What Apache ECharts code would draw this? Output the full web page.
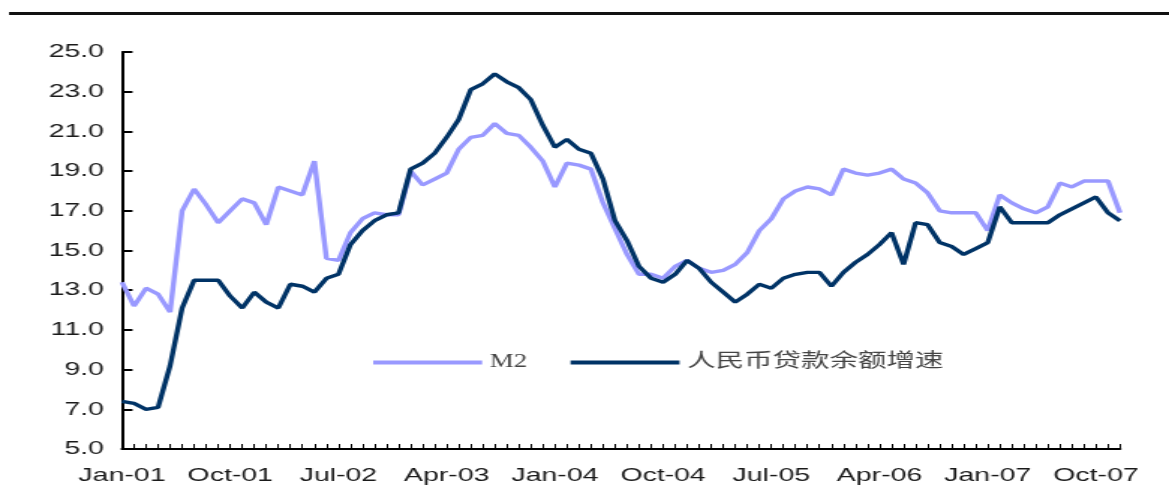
<!DOCTYPE html>
<html>
<head>
<meta charset="utf-8">
<script src="https://cdn.jsdelivr.net/npm/echarts@6/dist/echarts.min.js"></script>
<style>
  html, body { margin: 0; padding: 0; background: #ffffff; overflow: hidden; }
  #wrap { width: 1169px; height: 485px; overflow: hidden; }
  /* The chart is laid out on a narrower canvas and widened horizontally,
     giving the wide, stretched lettering and strokes of the printed figure. */
  #chart { width: 780px; height: 485px; transform-origin: 0 0; transform: scaleX(1.49872); }
</style>
</head>
<body>
<div id="wrap"><div id="chart"></div></div>
<script>
// Month labels, Jan-01 .. Dec-07
const monthNames = ['Jan', 'Feb', 'Mar', 'Apr', 'May', 'Jun', 'Jul', 'Aug', 'Sep', 'Oct', 'Nov', 'Dec'];
const years = ['01', '02', '03', '04', '05', '06', '07'];
const categories = [];
years.forEach(y => monthNames.forEach(m => categories.push(m + '-' + y)));

// M2 year-on-year growth (%)
const m2Growth = [
  13.4, 12.2, 13.1, 12.8, 11.9, 17.0, 18.1, 17.3, 16.4, 17.0, 17.6, 17.4,
  16.3, 18.2, 18.0, 17.8, 19.5, 14.6, 14.5, 15.9, 16.6, 16.9, 16.8, 16.8,
  19.0, 18.3, 18.6, 18.9, 20.1, 20.7, 20.8, 21.4, 20.9, 20.8, 20.2, 19.5,
  18.2, 19.4, 19.3, 19.1, 17.4, 16.1, 14.8, 13.8, 13.8, 13.6, 14.2, 14.5,
  14.1, 13.9, 14.0, 14.3, 14.9, 16.0, 16.6, 17.6, 18.0, 18.2, 18.1, 17.8,
  19.1, 18.9, 18.8, 18.9, 19.1, 18.6, 18.4, 17.9, 17.0, 16.9, 16.9, 16.9,
  16.0, 17.8, 17.4, 17.1, 16.9, 17.2, 18.4, 18.2, 18.5, 18.5, 18.5, 16.9
];

// RMB loan balance year-on-year growth (%)
const loanGrowth = [
  7.4, 7.3, 7.0, 7.1, 9.2, 12.1, 13.5, 13.5, 13.5, 12.7, 12.1, 12.9,
  12.4, 12.1, 13.3, 13.2, 12.9, 13.6, 13.8, 15.3, 16.0, 16.5, 16.8, 16.9,
  19.1, 19.4, 19.9, 20.7, 21.6, 23.1, 23.4, 23.9, 23.5, 23.2, 22.6, 21.3,
  20.2, 20.6, 20.1, 19.9, 18.6, 16.5, 15.5, 14.2, 13.6, 13.4, 13.8, 14.5,
  14.1, 13.4, 12.9, 12.4, 12.8, 13.3, 13.1, 13.6, 13.8, 13.9, 13.9, 13.2,
  13.9, 14.4, 14.8, 15.3, 15.9, 14.3, 16.4, 16.3, 15.4, 15.2, 14.8, 15.1,
  15.4, 17.2, 16.4, 16.4, 16.4, 16.4, 16.8, 17.1, 17.4, 17.7, 16.9, 16.5
];

const seriesNames = ['M2', '人民币贷款余额增速'];
const yTicks = { min: 5, max: 25, step: 2 };

const axisFont = "'Liberation Sans', Arial, sans-serif";
const legendFont = "'Liberation Serif', 'Noto Sans CJK SC', serif";

const chart = echarts.init(document.getElementById('chart'), null, { renderer: 'canvas' });

chart.setOption({
  animation: false,
  backgroundColor: '#ffffff',
  graphic: [
    {
      type: 'rect',
      shape: { x: 6, y: 12, width: 780, height: 3 },
      style: { fill: '#111111' },
      silent: true
    }
  ],
  grid: { left: 81.4, right: 32.7, top: 52, bottom: 34, containLabel: false },
  legend: {
    left: 244,
    top: 348,
    itemWidth: 72.7,
    itemHeight: 4,
    itemGap: 29,
    icon: 'rect',
    selectedMode: false,
    data: [
      { name: seriesNames[0], textStyle: { fontSize: 18, fontFamily: legendFont, color: '#444444' } },
      { name: seriesNames[1], textStyle: { fontSize: 19, fontFamily: legendFont, color: '#444444' } }
    ]
  },
  xAxis: {
    type: 'category',
    data: categories,
    boundaryGap: false,
    axisLine: { lineStyle: { color: '#000000', width: 2 } },
    axisTick: { inside: true, length: 5, interval: 0, lineStyle: { color: '#000000', width: 1 } },
    axisLabel: {
      interval: 8,
      margin: 17,
      fontSize: 19,
      fontFamily: axisFont,
      color: '#1a1a1a'
    },
    splitLine: { show: false }
  },
  yAxis: {
    type: 'value',
    min: yTicks.min,
    max: yTicks.max,
    interval: yTicks.step,
    axisLine: { show: true, lineStyle: { color: '#000000', width: 2 } },
    axisTick: { show: true, inside: true, length: 7, lineStyle: { color: '#000000', width: 2 } },
    axisLabel: {
      margin: 12,
      fontSize: 19,
      fontFamily: axisFont,
      color: '#1a1a1a',
      formatter: v => v.toFixed(1)
    },
    splitLine: { show: false }
  },
  series: [
    {
      name: seriesNames[0],
      type: 'line',
      data: m2Growth,
      showSymbol: false,
      symbol: 'none',
      lineStyle: { color: '#9999ff', width: 3.4 },
      itemStyle: { color: '#9999ff' },
      z: 2
    },
    {
      name: seriesNames[1],
      type: 'line',
      data: loanGrowth,
      showSymbol: false,
      symbol: 'none',
      lineStyle: { color: '#003366', width: 3.4 },
      itemStyle: { color: '#003366' },
      z: 3
    }
  ]
});
</script>
</body>
</html>
